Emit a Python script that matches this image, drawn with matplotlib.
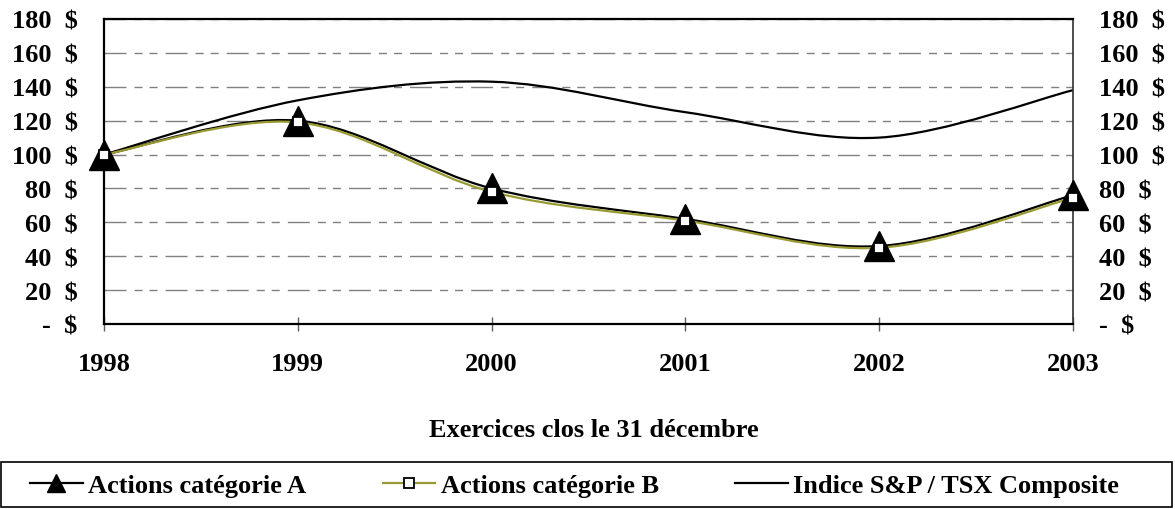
import matplotlib
matplotlib.use('Agg')
from matplotlib import pyplot as plt
from matplotlib.path import Path
from matplotlib.patches import PathPatch, Rectangle
from matplotlib.lines import Line2D


"""
Class A / class B shares vs S&P/TSX Composite, 1998-2003.
"""

years = [1998, 1999, 2000, 2001, 2002, 2003]
cat_a = [100, 120, 80, 62, 46, 76]
cat_b = [100, 119, 78, 61, 45, 74.5]
tsx = [100, 132, 143, 125, 110, 138]

y_ticks = [0, 20, 40, 60, 80, 100, 120, 140, 160, 180]
y_labels_left = ['-  $', '20  $', '40  $', '60  $', '80  $',
                 '100  $', '120  $', '140  $', '160  $', '180  $']
y_labels_right = ['-  $', '20  $', '40  $', '60  $', '80  $',
                  '100  $', '120  $', '140  $', '160  $', '180  $']

legend_labels = ['Actions catégorie A', 'Actions catégorie B',
                 'Indice S&P / TSX Composite']
x_title = 'Exercices clos le 31 décembre'

olive = '#9a9a33'
fs = 19

plt.rcParams['font.family'] = ['Liberation Serif', 'DejaVu Serif']
plt.rcParams['font.weight'] = 'bold'


def smooth_path(xs, ys):
    # spreadsheet-style smoothed line: cubic bezier through every point
    pts = list(zip(xs, ys))
    verts = [pts[0]]
    codes = [Path.MOVETO]
    n = len(pts)
    for i in range(n - 1):
        p0 = pts[i - 1] if i > 0 else pts[i]
        p1 = pts[i]
        p2 = pts[i + 1]
        p3 = pts[i + 2] if i + 2 < n else pts[i + 1]
        c1 = (p1[0] + (p2[0] - p0[0]) / 6, p1[1] + (p2[1] - p0[1]) / 6)
        c2 = (p2[0] - (p3[0] - p1[0]) / 6, p2[1] - (p3[1] - p1[1]) / 6)
        verts += [c1, c2, p2]
        codes += [Path.CURVE4] * 3
    return Path(verts, codes)


fig = plt.figure(figsize=(11.75, 5.1), dpi=100)
ax = fig.add_axes([104 / 1175, 1 - 325 / 510, 969 / 1175, 305 / 510])

ax.add_patch(PathPatch(smooth_path(years, tsx), fill=False, color='black',
                       lw=1.6, zorder=2))
ax.add_patch(PathPatch(smooth_path(years, cat_a), fill=False, color='black',
                       lw=1.6, zorder=2))
ax.add_patch(PathPatch(smooth_path(years, cat_b), fill=False, color=olive,
                       lw=1.6, zorder=2.5))
ax.plot(years, cat_a, ls='none', marker='^', ms=21, color='black',
        zorder=3, clip_on=False)
ax.plot(years, cat_b, ls='none', marker='s', ms=7, mfc='white',
        mec='black', mew=1.3, zorder=4, clip_on=False)

ax.set_xlim(1998, 2003)
ax.set_ylim(0, 180)
ax.set_xticks(years)
ax.set_xticklabels([str(y) for y in years], fontsize=fs, fontweight='bold')
ax.set_yticks(y_ticks)
ax.set_yticklabels(y_labels_left, fontsize=fs, fontweight='bold')
ax.tick_params(axis='x', direction='inout', length=10, width=1,
               color='#606060', pad=15)
ax.tick_params(axis='y', length=0, pad=19)

ax.yaxis.grid(True, color='#808080', lw=1,
              linestyle=(0, (15.8, 5.8, 5.8, 5, 5.8, 5.8)))
ax.set_axisbelow(True)

for side in ['left', 'bottom', 'top']:
    ax.spines[side].set_linewidth(1.6)
    ax.spines[side].set_color('black')
ax.spines['right'].set_linewidth(1.2)
ax.spines['right'].set_color('#303030')

ax2 = ax.twinx()
ax2.set_ylim(0, 180)
ax2.set_yticks(y_ticks)
ax2.set_yticklabels(y_labels_right, fontsize=fs, fontweight='bold')
ax2.tick_params(axis='y', length=0, pad=19)
for s in ax2.spines.values():
    s.set_visible(False)

fig.text(594 / 1175, 1 - 431 / 510, x_title, ha='center', va='center',
         fontsize=fs, fontweight='bold')

# legend box spans the whole width
fig.patches.append(Rectangle((0.0005, 0.004), 1171 / 1175, 0.088,
                             transform=fig.transFigure, fill=False,
                             edgecolor='black', lw=1.2))

handles = [
    Line2D([], [], color='black', lw=1.6, marker='^', ms=13),
    Line2D([], [], color=olive, lw=1.6, marker='s', ms=7, mfc='white',
           mec='black', mew=1.3),
    Line2D([], [], color='black', lw=1.6),
]
leg = fig.legend(handles, legend_labels, loc='center left', ncol=3,
                 bbox_to_anchor=(30 / 1175, 1 - 486 / 510),
                 frameon=False, handlelength=2.0, handletextpad=0.2,
                 columnspacing=2.9, borderaxespad=0, borderpad=0,
                 prop={'weight': 'bold', 'size': fs})

fig.savefig('out.png', dpi=100)
